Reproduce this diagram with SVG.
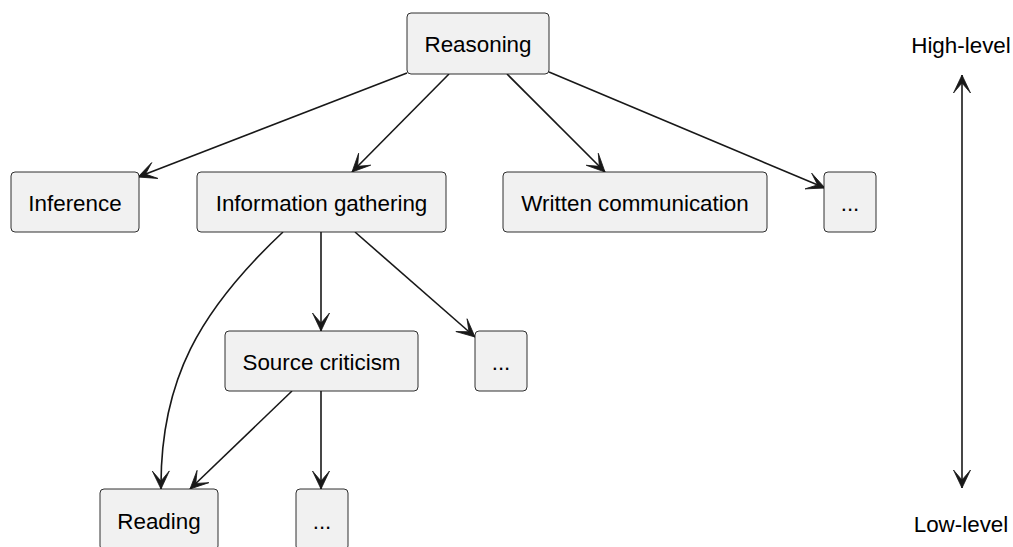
<svg xmlns="http://www.w3.org/2000/svg" width="1013" height="547" viewBox="0 0 1013 547">
  <style>
    .box { fill: #F1F1F1; stroke: #181818; stroke-width: 0.9; }
    .lbl { font-family: "Liberation Sans", Arial, sans-serif; font-size: 22.4px; fill: #000; text-anchor: middle; }
    .edge { fill: none; stroke: #181818; stroke-width: 1.6; }
  </style>
  <defs>
    <marker id="head" markerUnits="userSpaceOnUse" markerWidth="22" markerHeight="22" refX="20" refY="11" orient="auto-start-reverse" viewBox="0 0 22 22">
      <path d="M20,11 L2,2.5 L12,11 L2,19.5 Z" fill="#181818" stroke="#181818" stroke-width="0.8" stroke-linejoin="miter"/>
    </marker>
  </defs>

  <rect width="1013" height="547" fill="#FFFFFF"/>

  <!-- connectors -->
  <g id="connectors">
    <path class="edge" d="M407,73 L138,177" marker-end="url(#head)"/>
    <path class="edge" d="M449,74 L352,172" marker-end="url(#head)"/>
    <path class="edge" d="M507,74 L605,172" marker-end="url(#head)"/>
    <path class="edge" d="M549,72 L825,188" marker-end="url(#head)"/>
    <path class="edge" d="M321,232 L321,331" marker-end="url(#head)"/>
    <path class="edge" d="M355,232 L475,337" marker-end="url(#head)"/>
    <path class="edge" d="M283,232 C200,310 160,380 161,489" marker-end="url(#head)"/>
    <path class="edge" d="M292,391 L190,489" marker-end="url(#head)"/>
    <path class="edge" d="M321,391 L321,489" marker-end="url(#head)"/>
    <path class="edge" d="M962,75 L962,488" marker-start="url(#head)" marker-end="url(#head)"/>
  </g>

  <!-- nodes -->
  <g id="reasoning">
    <rect class="box" x="407" y="13" width="142" height="61" rx="4"/>
    <text class="lbl" x="478" y="52">Reasoning</text>
  </g>
  <g id="inference">
    <rect class="box" x="11" y="172" width="128" height="60" rx="4"/>
    <text class="lbl" x="75" y="210.5">Inference</text>
  </g>
  <g id="information-gathering">
    <rect class="box" x="197" y="172" width="249" height="60" rx="4"/>
    <text class="lbl" x="321.5" y="210.5">Information gathering</text>
  </g>
  <g id="written-communication">
    <rect class="box" x="503" y="172" width="264" height="60" rx="4"/>
    <text class="lbl" x="635" y="210.5">Written communication</text>
  </g>
  <g id="more-high">
    <rect class="box" x="824" y="172" width="52" height="60" rx="4"/>
    <text class="lbl" x="850" y="210.5">...</text>
  </g>
  <g id="source-criticism">
    <rect class="box" x="225" y="331" width="193" height="60" rx="4"/>
    <text class="lbl" x="321.5" y="369.5">Source criticism</text>
  </g>
  <g id="more-gathering">
    <rect class="box" x="475" y="331" width="52" height="60" rx="4"/>
    <text class="lbl" x="501" y="369.5">...</text>
  </g>
  <g id="reading">
    <rect class="box" x="100" y="489" width="118" height="61" rx="4"/>
    <text class="lbl" x="159" y="529">Reading</text>
  </g>
  <g id="more-criticism">
    <rect class="box" x="296" y="489" width="52" height="61" rx="4"/>
    <text class="lbl" x="322" y="529">...</text>
  </g>

  <!-- level scale -->
  <g id="scale-labels">
    <text class="lbl" x="961" y="53">High-level</text>
    <text class="lbl" x="961" y="532">Low-level</text>
  </g>
</svg>
